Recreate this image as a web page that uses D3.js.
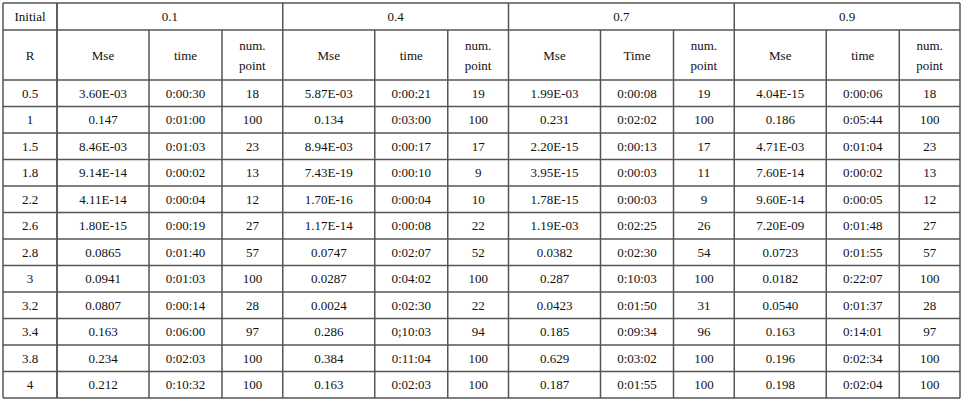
<!DOCTYPE html>
<html><head><meta charset="utf-8">
<script src="https://cdn.jsdelivr.net/npm/d3@7"></script>
<style>body{margin:0;background:#fff}</style>
</head><body>
<div id="chart"></div>
<script>
// data
const initials = ["0.1", "0.4", "0.7", "0.9"];
const subHeaders = [["Mse"], ["time"], ["num.", "point"]];
const subHeaders07 = [["Mse"], ["Time"], ["num.", "point"]];
const rValues = ["0.5", "1", "1.5", "1.8", "2.2", "2.6", "2.8", "3", "3.2", "3.4", "3.8", "4"];
const mse = [
  ["3.60E-03", "5.87E-03", "1.99E-03", "4.04E-15"],
  ["0.147", "0.134", "0.231", "0.186"],
  ["8.46E-03", "8.94E-03", "2.20E-15", "4.71E-03"],
  ["9.14E-14", "7.43E-19", "3.95E-15", "7.60E-14"],
  ["4.11E-14", "1.70E-16", "1.78E-15", "9.60E-14"],
  ["1.80E-15", "1.17E-14", "1.19E-03", "7.20E-09"],
  ["0.0865", "0.0747", "0.0382", "0.0723"],
  ["0.0941", "0.0287", "0.287", "0.0182"],
  ["0.0807", "0.0024", "0.0423", "0.0540"],
  ["0.163", "0.286", "0.185", "0.163"],
  ["0.234", "0.384", "0.629", "0.196"],
  ["0.212", "0.163", "0.187", "0.198"]
];
const times = [
  ["0:00:30", "0:00:21", "0:00:08", "0:00:06"],
  ["0:01:00", "0:03:00", "0:02:02", "0:05:44"],
  ["0:01:03", "0:00:17", "0:00:13", "0:01:04"],
  ["0:00:02", "0:00:10", "0:00:03", "0:00:02"],
  ["0:00:04", "0:00:04", "0:00:03", "0:00:05"],
  ["0:00:19", "0:00:08", "0:02:25", "0:01:48"],
  ["0:01:40", "0:02:07", "0:02:30", "0:01:55"],
  ["0:01:03", "0:04:02", "0:10:03", "0:22:07"],
  ["0:00:14", "0:02:30", "0:01:50", "0:01:37"],
  ["0:06:00", "0;10:03", "0:09:34", "0:14:01"],
  ["0:02:03", "0:11:04", "0:03:02", "0:02:34"],
  ["0:10:32", "0:02:03", "0:01:55", "0:02:04"]
];
const points = [
  [18, 19, 19, 18], [100, 100, 100, 100], [23, 17, 17, 23], [13, 9, 11, 13],
  [12, 10, 9, 12], [27, 22, 26, 27], [57, 52, 54, 57], [100, 100, 100, 100],
  [28, 22, 31, 28], [97, 94, 96, 97], [100, 100, 100, 100], [100, 100, 100, 100]
];

// layout
const W = 963, H = 402;
const xLeft = 3, xRight = 960, yTop = 3;
const firstW = 54;
const groupW = (xRight - xLeft - firstW) / 4;
const subW = [92, 73, groupW - 165];
const h1 = 27, h2 = 50;
const rowH = 26.5;
const yBottom = yTop + h1 + h2 + rowH * rValues.length;

const svg = d3.select("#chart").append("svg").attr("width", W).attr("height", H);

const xGroup = d3.scaleBand().domain(initials).range([xLeft + firstW, xRight]);
const yRow = d3.scaleBand().domain(rValues).range([yTop + h1 + h2, yBottom]);

// column edges inside each group
const subX = g => {
  const x0 = xGroup(g);
  return [x0, x0 + subW[0], x0 + subW[0] + subW[1], x0 + groupW];
};

const font = "'Liberation Serif', 'Times New Roman', serif";
const txt = (x, y, s) => svg.append("text")
  .attr("x", x).attr("y", y).attr("text-anchor", "middle")
  .attr("dominant-baseline", "central")
  .style("font-family", font).style("font-size", "13px").style("fill", "#111")
  .text(s);

// header row 1
txt(xLeft + firstW / 2, yTop + h1 / 2, "Initial");
initials.forEach(g => txt(xGroup(g) + groupW / 2, yTop + h1 / 2, g));

// header row 2
txt(xLeft + firstW / 2, yTop + h1 + h2 / 2, "R");
initials.forEach((g, gi) => {
  const xs = subX(g);
  const hdr = gi === 2 ? subHeaders07 : subHeaders;
  hdr.forEach((lines, k) => {
    const cx = (xs[k] + xs[k + 1]) / 2;
    const cy = yTop + h1 + h2 / 2;
    if (lines.length === 1) txt(cx, cy, lines[0]);
    else { txt(cx, cy - 10, lines[0]); txt(cx, cy + 10, lines[1]); }
  });
});

// body
rValues.forEach((r, ri) => {
  const cy = yRow(r) + yRow.bandwidth() / 2;
  txt(xLeft + firstW / 2, cy, r);
  initials.forEach((g, gi) => {
    const xs = subX(g);
    const vals = [mse[ri][gi], times[ri][gi], points[ri][gi]];
    vals.forEach((v, k) => txt((xs[k] + xs[k + 1]) / 2, cy, v));
  });
});

// grid lines
const lineStyle = sel => sel.attr("stroke", "#555").attr("stroke-width", 1.5);
const hl = (y, x1, x2) => lineStyle(svg.append("line").attr("x1", x1).attr("x2", x2).attr("y1", y).attr("y2", y));
const vl = (x, y1, y2) => lineStyle(svg.append("line").attr("x1", x).attr("x2", x).attr("y1", y1).attr("y2", y2));

hl(yTop, xLeft, xRight);
hl(yTop + h1, xLeft, xRight);
rValues.forEach(r => hl(yRow(r), xLeft, xRight));
hl(yBottom, xLeft, xRight);

vl(xLeft, yTop, yBottom);
vl(xLeft + firstW, yTop, yBottom);
initials.forEach(g => {
  const xs = subX(g);
  vl(xs[0], yTop, yBottom);
  vl(xs[1], yTop + h1, yBottom);
  vl(xs[2], yTop + h1, yBottom);
});
vl(xRight, yTop, yBottom);
</script>
</body></html>
